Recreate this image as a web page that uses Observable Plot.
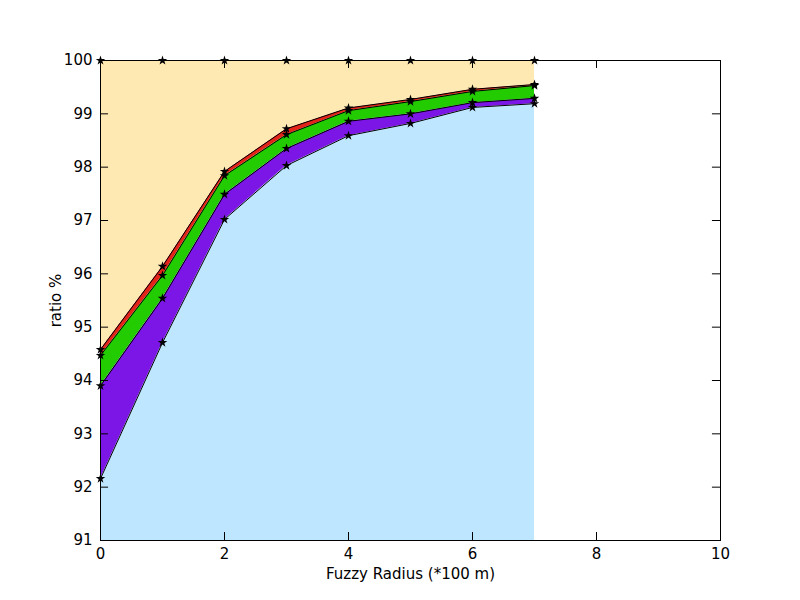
<!DOCTYPE html>
<html>
<head>
<script src="https://cdn.jsdelivr.net/npm/d3@7"></script>
<script src="https://cdn.jsdelivr.net/npm/@observablehq/plot@0.6"></script>
<style>body{margin:0;background:#fff;font-family:"DejaVu Sans",sans-serif;}</style>
</head>
<body>
<div id="chart"></div>
<script>
// Fuzzy radius (*100 m)
var radius = [0, 1, 2, 3, 4, 5, 6, 7];
// cumulative ratio % lines, bottom to top
var line1 = [92.16, 94.71, 97.02, 98.03, 98.59, 98.82, 99.12, 99.19];
var line2 = [93.90, 95.54, 97.49, 98.35, 98.86, 99.00, 99.21, 99.29];
var line3 = [94.47, 95.97, 97.84, 98.61, 99.06, 99.23, 99.42, 99.53];
var line4 = [94.58, 96.14, 97.92, 98.72, 99.11, 99.27, 99.46, 99.55];
var line5 = [100, 100, 100, 100, 100, 100, 100, 100];
var lines = [line1, line2, line3, line4, line5];
var fills = ["#bfe6ff", "#7b16e6", "#22cc00", "#e3231a", "#ffe9b3"];
var xTicks = [0, 2, 4, 6, 8, 10];
var yTicks = [91, 92, 93, 94, 95, 96, 97, 98, 99, 100];

var bands = [];
lines.forEach(function(l, i) {
  radius.forEach(function(r, j) {
    bands.push({band: i, x: r, lo: i === 0 ? 91 : lines[i - 1][j], hi: l[j]});
  });
});
var pts = [];
lines.forEach(function(l, i) {
  radius.forEach(function(r, j) { pts.push({band: i, x: r, y: l[j]}); });
});

var marks = [];
fills.forEach(function(c, i) {
  marks.push(Plot.areaY(bands.filter(function(d) { return d.band === i; }),
    {x: "x", y1: "lo", y2: "hi", fill: c}));
});
lines.forEach(function(l, i) {
  marks.push(Plot.line(pts.filter(function(d) { return d.band === i; }),
    {x: "x", y: "y", stroke: "black", strokeWidth: 1}));
});
marks.push(Plot.dot(pts, {x: "x", y: "y", symbol: "star", fill: "black", r: 3}));
// inward ticks on all four sides
marks.push(Plot.ruleX(xTicks, {x: d => d, y1: 91, y2: 91.15, stroke: "black"}));
marks.push(Plot.ruleX(xTicks, {x: d => d, y1: 100, y2: 99.85, stroke: "black"}));
marks.push(Plot.ruleY(yTicks, {y: d => d, x1: 0, x2: 0.13, stroke: "black"}));
marks.push(Plot.ruleY(yTicks, {y: d => d, x1: 10, x2: 9.87, stroke: "black"}));
marks.push(Plot.frame({stroke: "black"}));
marks.push(Plot.axisX({ticks: xTicks, tickSize: 0, tickPadding: 8, fontSize: 15,
  label: "Fuzzy Radius (*100 m)", labelAnchor: "center", labelArrow: "none", labelOffset: 38}));
marks.push(Plot.axisY({ticks: yTicks, tickSize: 0, tickPadding: 8, fontSize: 15,
  label: "ratio %", labelAnchor: "center", labelArrow: "none", labelOffset: 50}));

var plot = Plot.plot({
  width: 800, height: 600,
  marginLeft: 100, marginRight: 80, marginTop: 60, marginBottom: 60,
  style: {fontFamily: "DejaVu Sans", fontSize: "15px", color: "black", background: "white"},
  x: {domain: [0, 10]},
  y: {domain: [91, 100]},
  marks: marks
});
document.getElementById("chart").appendChild(plot);
</script>
</body>
</html>
